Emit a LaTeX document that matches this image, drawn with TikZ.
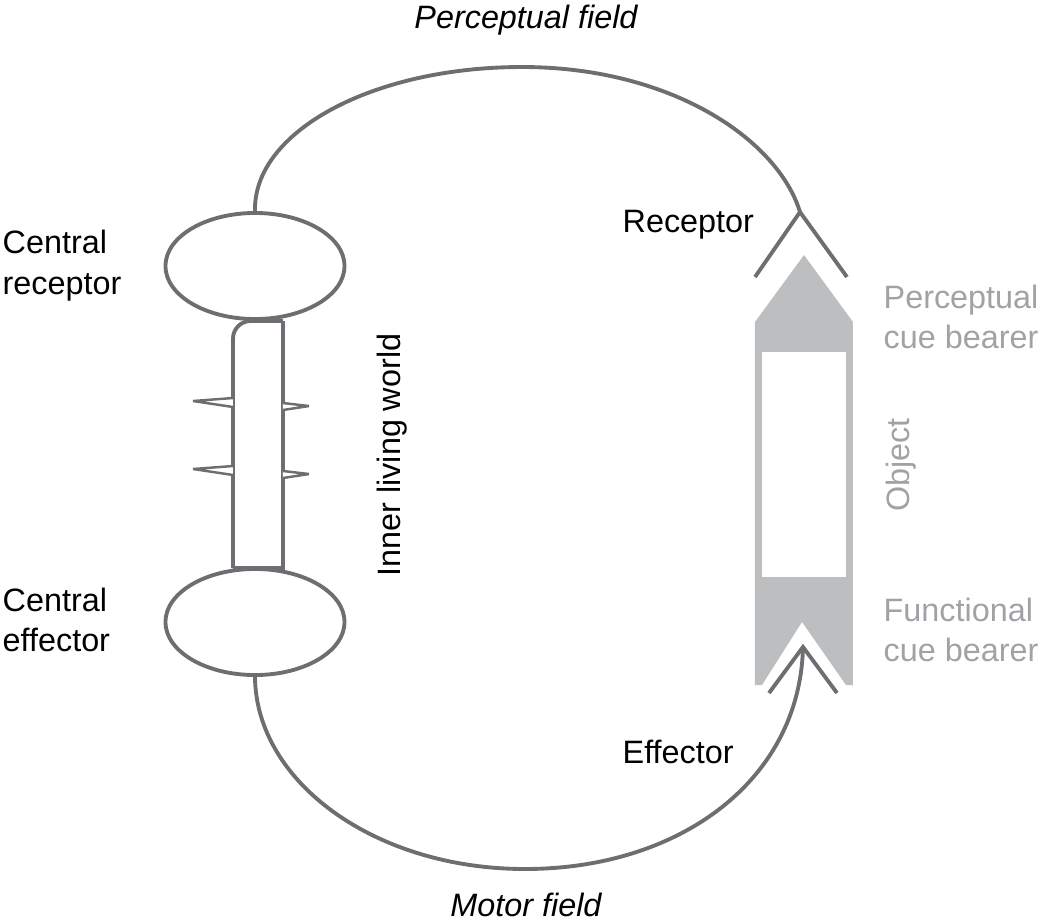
\documentclass[tikz,border=0pt]{standalone}
\usepackage{fontspec}
\setmainfont{Liberation Sans}
\usepackage{tikz}
\usepackage{xcolor}
\usetikzlibrary{shapes.geometric, positioning}
\definecolor{cLine}{RGB}{109,110,113}
\definecolor{cObject}{RGB}{188,190,192}
\definecolor{cCue}{RGB}{160,162,165}
\tikzset{
	organ/.style    ={ellipse, draw=cLine, line width=1.1pt, minimum width=1.79cm, minimum height=1.06cm, inner sep=0pt},
	nerve/.style    ={draw=cLine, line width=1.1pt},
	spike/.style    ={draw=cLine, line width=0.7pt, fill=white, line join=bevel},
	lbl/.style      ={font=\fontsize{9.2}{11.6}\selectfont, inner sep=0pt, align=left},
	field/.style    ={lbl, font=\fontsize{9.2}{11.6}\selectfont\itshape},
	cue/.style      ={lbl, text=cCue},
}
\begin{document}
\begin{tikzpicture}[x=0.01cm, y=-0.01cm]
	\useasboundingbox (0,0) rectangle (1041,920);
	% ---- object ----
	\fill[cObject] (755,322) -- (804,255) -- (853,322) -- (853,685) -- (846,685) -- (802,622) -- (762,685) -- (755,685) -- cycle;
	\fill[white] (762,352) rectangle (846,577);
	% ---- subject: central organs and stem ----
	\node[organ] (crec) at (255,266) {};
	\node[organ] (ceff) at (255,622) {};
	\draw[nerve, rounded corners=5pt] (233,568) |- (283,321);
	\draw[nerve] (283,321) -- (283,568) -- (233,568);
	\foreach \dy in {0,68} {
		\draw[spike] (233,398+\dy) -- (193,401+\dy) -- (233,407+\dy);
		\draw[spike] (283,403+\dy) -- (309,406+\dy) -- (283,410+\dy);
	}
	% ---- receptor and effector ----
	\coordinate (rec) at (800,212);
	\coordinate (eff) at (803,647);
	\draw[nerve] (755,277) -- (rec) -- (847,277);
	\draw[nerve] (769,693) -- (eff) -- (837,693);
	% ---- circle ----
	\draw[nerve] (crec.north) .. controls (253,132) and (372,67) .. (522,67) .. controls (672,67) and (778,140) .. (rec);
	\draw[nerve] (ceff.south) .. controls (256,782) and (375,869) .. (525,869) .. controls (680,869) and (800,780) .. (eff);
	% ---- labels ----
	\node[field, anchor=base] (pfield) at (526,28) {Perceptual field};
	\node[field, anchor=base] (mfield) at (526,916) {Motor field};
	\node[lbl, anchor=west] (lcrec) at (2,266) {Central\\receptor};
	\node[lbl, anchor=west] (lceff) at (2,620) {Central\\effector};
	\node[lbl, anchor=base west] (lrec) at (622,232) {Receptor};
	\node[lbl, anchor=base west] (leff) at (622,763) {Effector};
	\node[lbl, anchor=base, rotate=90] (inner) at (400,455) {Inner living world};
	\node[cue, anchor=west] (lpcue) at (883,317) {Perceptual\\cue bearer};
	\node[cue, anchor=west] (lfcue) at (883,630) {Functional\\cue bearer};
	\node[cue, anchor=base, rotate=90] (lobj) at (910,465) {Object};
\end{tikzpicture}
\end{document}
